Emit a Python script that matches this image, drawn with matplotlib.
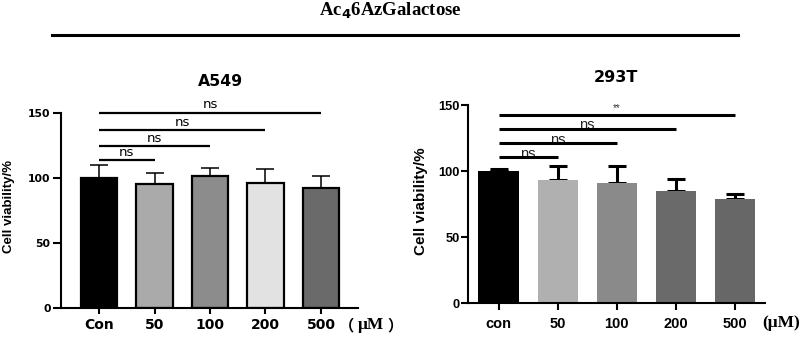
import matplotlib
matplotlib.use("Agg")
import matplotlib.pyplot as plt
import numpy as np

# ---- data ----
categories_left = ["Con", "50", "100", "200", "500"]
means_left = [100, 95.4, 101.8, 96.4, 92.3]
err_left = [10, 8.2, 5.9, 10.8, 9.5]
colors_left = ["#000000", "#aaaaaa", "#8c8c8c", "#e2e2e2", "#6a6a6a"]
sig_left_targets = [1, 2, 3, 4]
sig_left_y = [113.8, 124.6, 136.7, 150.2]
sig_left_text = ["ns", "ns", "ns", "ns"]

categories_right = ["con", "50", "100", "200", "500"]
means_right = [100, 93.4, 90.9, 84.8, 79.2]
err_right = [2, 10.6, 13.1, 9.4, 3.6]
colors_right = ["#000000", "#b0b0b0", "#8a8a8a", "#6a6a6a", "#676767"]
sig_right_targets = [1, 2, 3, 4]
sig_right_y = [110.6, 121.2, 132.3, 143.0]
sig_right_text = ["ns", "ns", "ns", "**"]

yticks = [0, 50, 100, 150]

W, H = 803, 339
fig = plt.figure(figsize=(W / 100, H / 100), dpi=100)
plt.rcParams['font.family'] = ['Liberation Sans', 'DejaVu Sans']

SANS_L = "DejaVu Sans"
SANS_R = "Liberation Sans"

def ax_px(x0, x1, y_bottom, y_top):
    return fig.add_axes([x0 / W, (H - y_bottom) / H, (x1 - x0) / W, (y_bottom - y_top) / H])

# Left panel: y0 at px 308, 1.3 px/unit
axL = ax_px(61, 358, 308, 308 - 1.3 * 160)
axL.set_ylim(0, 160)
axL.set_xlim(-0.685, 4.667)
x = np.arange(len(categories_left))
axL.bar(x, means_left, width=0.65, color=colors_left, edgecolor="black", linewidth=1.6, zorder=2)
axL.errorbar(x, means_left, yerr=[np.zeros(5), err_left], fmt="none", ecolor="black",
             elinewidth=1.1, capsize=6.8, capthick=1.1, zorder=1)
for t, yv, s in zip(sig_left_targets, sig_left_y, sig_left_text):
    axL.plot([0, t], [yv, yv], color="black", lw=1.6, solid_capstyle="butt", clip_on=False)
    axL.text(t / 2, yv + 1.0, s, ha="center", va="bottom", fontsize=9.5, family=SANS_L,
             clip_on=False)

# Right panel: y0 at px 303.3, 1.32 px/unit
axR = ax_px(468, 765, 303.3, 303.3 - 1.32 * 160)
axR.set_ylim(0, 160)
axR.set_xlim(-0.517, 4.51)
axR.bar(x, means_right, width=0.68, color=colors_right, edgecolor="none", zorder=2)
axR.errorbar(x, means_right, yerr=[np.zeros(5), err_right], fmt="none", ecolor="black",
             elinewidth=2.2, capsize=6.8, capthick=2.2, zorder=1)
for t, yv, s in zip(sig_right_targets, sig_right_y, sig_right_text):
    axR.plot([0, t], [yv, yv], color="black", lw=2.2, solid_capstyle="butt", clip_on=False,
             zorder=4)
    if s == "ns":
        axR.text(t / 2, yv - 0.3, s, ha="center", va="baseline", fontsize=10.5,
                 family=SANS_R, clip_on=False, color="#222222", zorder=3)
    else:
        axR.text(t / 2, yv + 1.2, s, ha="center", va="bottom", fontsize=7,
                 family=SANS_R, clip_on=False, color="#333333")

for ax, cats, fam, ysz, xsz, tlx, padx, tly, pady in [
        (axL, categories_left, SANS_L, 7.8, 10, 4.5, 3, 5.5, 2),
        (axR, categories_right, SANS_R, 9.3, 10.5, 5, 5, 5, 1)]:
    ax.spines["top"].set_visible(False)
    ax.spines["right"].set_visible(False)
    ax.spines["left"].set_bounds(0, 150)
    ax.spines["left"].set_linewidth(1.5)
    ax.spines["bottom"].set_linewidth(1.5)
    ax.set_yticks(yticks)
    ax.set_yticklabels([str(v) for v in yticks], fontsize=ysz, fontweight="bold", family=fam)
    ax.set_xticks(x)
    ax.set_xticklabels(cats, fontsize=xsz, fontweight="bold", family=fam)
    ax.tick_params(axis="y", length=tly, width=1.5, pad=pady)
    ax.tick_params(axis="x", length=tlx, width=1.5, pad=padx)

fig.text(9 / W, 1 - 207 / H, "Cell viability/%", rotation=90, ha="center", va="center",
         fontsize=9.5, fontweight="bold", family="Liberation Sans")
fig.text(421 / W, 1 - 201.5 / H, "Cell viability/%", rotation=90, ha="center", va="center",
         fontsize=11, fontweight="bold", family="Liberation Sans")

fig.text(220 / W, 1 - 82 / H, "A549", ha="center", va="center", fontsize=11.3,
         fontweight="bold", family="DejaVu Sans")
fig.text(616 / W, 1 - 78 / H, "293T", ha="center", va="center", fontsize=11.5,
         fontweight="bold", family="DejaVu Sans")

fig.text(390 / W, 1 - 11 / H, r"Ac$_\mathbf{4}$6AzGalactose", ha="center", va="center",
         fontsize=13.5, fontweight="bold", family="Liberation Serif")
fig.add_artist(plt.Line2D([52 / W, 738 / W], [1 - 34.5 / H, 1 - 34.5 / H], color="black", lw=2.2))

# left unit label (full-width parentheses)
fig.text(354 / W, 1 - 325 / H, "（", ha="right", va="center", fontsize=11,
         fontweight="bold", family=["Noto Sans CJK SC"])
fig.text(371 / W, 1 - 325 / H, "μM", ha="center", va="center", fontsize=12.5,
         fontweight="bold", family="Liberation Serif")
fig.text(387 / W, 1 - 325 / H, "）", ha="left", va="center", fontsize=11,
         fontweight="bold", family=["Noto Sans CJK SC"])
# right unit label
fig.text(781 / W, 1 - 323 / H, "(μM)", ha="center", va="center", fontsize=12.5,
         fontweight="bold", family="Liberation Serif")

fig.savefig("out.png", dpi=100)
